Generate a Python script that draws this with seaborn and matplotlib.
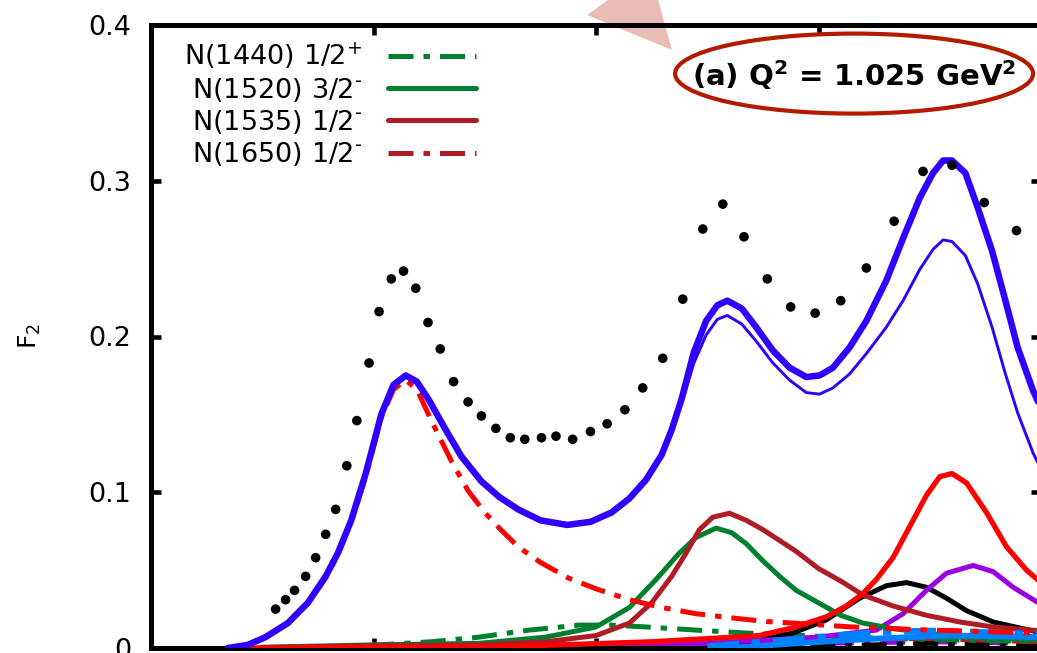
import numpy as np
import pandas as pd
import matplotlib
matplotlib.use("Agg")
import matplotlib.pyplot as plt
import seaborn as sns
from matplotlib.patches import Ellipse, Polygon

# ---------------- data ----------------
data_W = [1.112, 1.121, 1.129, 1.139, 1.148, 1.157, 1.166, 1.176, 1.185, 1.196,
          1.205, 1.216, 1.227, 1.238, 1.249, 1.260, 1.272, 1.285, 1.297, 1.310,
          1.323, 1.336, 1.351, 1.364, 1.379, 1.395, 1.410, 1.426, 1.442, 1.460,
          1.478, 1.496, 1.514, 1.533, 1.554, 1.575, 1.597, 1.620, 1.643, 1.668,
          1.694, 1.720, 1.749, 1.778]
data_F2 = [0.025, 0.031, 0.037, 0.046, 0.058, 0.073, 0.089, 0.117, 0.146, 0.183,
           0.216, 0.237, 0.242, 0.231, 0.209, 0.192, 0.171, 0.158, 0.149, 0.141,
           0.135, 0.134, 0.135, 0.136, 0.134, 0.139, 0.144, 0.153, 0.167, 0.186,
           0.224, 0.269, 0.285, 0.264, 0.237, 0.219, 0.215, 0.223, 0.244, 0.274,
           0.306, 0.310, 0.286, 0.268]

tot_W = [1.069, 1.087, 1.103, 1.123, 1.141, 1.157, 1.168, 1.180, 1.193, 1.207,
         1.218, 1.229, 1.239, 1.250, 1.265, 1.279, 1.297, 1.313, 1.330, 1.350,
         1.374, 1.395, 1.414, 1.430, 1.445, 1.459, 1.468, 1.477, 1.488, 1.499,
         1.509, 1.518, 1.531, 1.544, 1.559, 1.574, 1.589, 1.601, 1.613, 1.628,
         1.643, 1.661, 1.676, 1.691, 1.703, 1.712, 1.720, 1.732, 1.743, 1.756,
         1.768, 1.779, 1.793, 1.800]
tot_F2 = [0.000, 0.002, 0.007, 0.016, 0.029, 0.046, 0.061, 0.082, 0.112, 0.150,
          0.169, 0.175, 0.171, 0.159, 0.140, 0.123, 0.107, 0.097, 0.089, 0.082,
          0.079, 0.081, 0.087, 0.096, 0.108, 0.124, 0.140, 0.160, 0.190, 0.210,
          0.220, 0.223, 0.218, 0.206, 0.191, 0.180, 0.174, 0.175, 0.180, 0.193,
          0.210, 0.236, 0.263, 0.289, 0.305, 0.313, 0.313, 0.305, 0.283, 0.255,
          0.223, 0.193, 0.165, 0.154]
# thinner total curve (second model)
tot2_F2 = [0.000, 0.002, 0.007, 0.016, 0.029, 0.046, 0.061, 0.082, 0.112, 0.150,
           0.169, 0.175, 0.171, 0.159, 0.140, 0.123, 0.107, 0.097, 0.089, 0.082,
           0.079, 0.081, 0.087, 0.096, 0.108, 0.124, 0.139, 0.157, 0.183, 0.201,
           0.211, 0.2135, 0.208, 0.197, 0.183, 0.172, 0.164, 0.163, 0.167, 0.176,
           0.189, 0.206, 0.223, 0.243, 0.256, 0.262, 0.261, 0.252, 0.234, 0.206,
           0.176, 0.151, 0.125, 0.115]

delta_W = [1.069, 1.087, 1.103, 1.123, 1.141, 1.157, 1.168, 1.180, 1.193, 1.207,
           1.218, 1.229, 1.239, 1.252, 1.270, 1.285, 1.300, 1.313, 1.330, 1.350,
           1.375, 1.400, 1.430, 1.459, 1.490, 1.526, 1.553, 1.577, 1.630, 1.700,
           1.800]
delta_F2 = [0.000, 0.002, 0.007, 0.016, 0.029, 0.045, 0.060, 0.081, 0.110, 0.148,
            0.166, 0.172, 0.166, 0.146, 0.120, 0.101, 0.087, 0.077, 0.065, 0.055,
            0.045, 0.038, 0.031, 0.026, 0.022, 0.019, 0.017, 0.016, 0.0135, 0.0115,
            0.0096]

n1440_W = [1.150, 1.205, 1.252, 1.295, 1.340, 1.385, 1.414, 1.445, 1.490, 1.535,
           1.600, 1.700, 1.800]
n1440_F2 = [0.000, 0.002, 0.004, 0.007, 0.0115, 0.0147, 0.0147, 0.0135, 0.0115,
            0.0096, 0.0075, 0.0055, 0.004]

n1520_W = [1.100, 1.200, 1.295, 1.355, 1.400, 1.430, 1.454, 1.475, 1.490, 1.508,
           1.522, 1.535, 1.550, 1.565, 1.580, 1.600, 1.620, 1.640, 1.667, 1.697,
           1.727, 1.800]
n1520_F2 = [0.0005, 0.002, 0.003, 0.007, 0.0135, 0.026, 0.044, 0.061, 0.071, 0.077,
            0.074, 0.067, 0.056, 0.046, 0.037, 0.029, 0.021, 0.016, 0.0125, 0.0096,
            0.007, 0.005]

n1535_W = [1.100, 1.200, 1.295, 1.355, 1.400, 1.430, 1.450, 1.468, 1.481, 1.493,
           1.505, 1.520, 1.535, 1.550, 1.565, 1.580, 1.600, 1.620, 1.640, 1.667,
           1.697, 1.727, 1.757, 1.800]
n1535_F2 = [0.0003, 0.0015, 0.002, 0.004, 0.008, 0.016, 0.029, 0.046, 0.061, 0.076,
            0.084, 0.0865, 0.082, 0.076, 0.069, 0.062, 0.051, 0.043, 0.034, 0.027,
            0.021, 0.0167, 0.0135, 0.011]

n1650_W = [1.450, 1.550, 1.600, 1.650, 1.700, 1.750, 1.800]
n1650_F2 = [0.000, 0.002, 0.004, 0.006, 0.006, 0.005, 0.004]

red3_W = [1.069, 1.300, 1.367, 1.450, 1.500, 1.547, 1.577, 1.607, 1.625, 1.640,
          1.652, 1.667, 1.682, 1.697, 1.709, 1.720, 1.733, 1.751, 1.769, 1.787,
          1.800]
red3_F2 = [0.000, 0.0005, 0.002, 0.004, 0.006, 0.008, 0.013, 0.020, 0.027, 0.035,
           0.044, 0.058, 0.078, 0.098, 0.110, 0.112, 0.106, 0.087, 0.065, 0.050,
           0.042]

black_W = [1.300, 1.500, 1.547, 1.577, 1.607, 1.637, 1.661, 1.679, 1.697, 1.715,
           1.733, 1.757, 1.800]
black_F2 = [0.000, 0.002, 0.005, 0.0096, 0.018, 0.032, 0.040, 0.042, 0.039, 0.032,
            0.024, 0.0167, 0.0098]

purple_W = [1.300, 1.500, 1.600, 1.652, 1.676, 1.697, 1.715, 1.739, 1.757, 1.775,
            1.800]
purple_F2 = [0.000, 0.003, 0.007, 0.0115, 0.022, 0.037, 0.048, 0.053, 0.049, 0.039,
             0.028]

lblue_dd_W = [1.500, 1.550, 1.600, 1.650, 1.700, 1.750, 1.800]
lblue_dd_F2 = [0.001, 0.004, 0.007, 0.010, 0.011, 0.010, 0.009]
lblue_W = [1.520, 1.580, 1.650, 1.720, 1.800]
lblue_F2 = [0.000, 0.003, 0.006, 0.008, 0.007]
purple_dd_W = [1.100, 1.400, 1.600, 1.700, 1.800]
purple_dd_F2 = [0.000, 0.001, 0.003, 0.004, 0.003]
black_dd_W = [1.500, 1.650, 1.700, 1.800]
black_dd_F2 = [0.000, 0.002, 0.003, 0.002]

legend_labels = ["N(1440) 1/2$^{+}$", "N(1520) 3/2$^{\u2010}$",
                 "N(1535) 1/2$^{\u2010}$", "N(1650) 1/2$^{\u2010}$"]
y_ticks = [0.0, 0.1, 0.2, 0.3, 0.4]
y_ticklabels = ["0", "0.1", "0.2", "0.3", "0.4"]
x_ticks = [1.0, 1.2, 1.4, 1.6, 1.8]
annot_text = r"(a) Q$^{\mathbf{2}}$ = 1.025 GeV$^{\mathbf{2}}$"

# ---------------- style ----------------
sns.set_style("white")
plt.rcParams["font.family"] = ["DejaVu Sans"]
plt.rcParams["mathtext.fontset"] = "dejavusans"
for k in ["text.color", "axes.labelcolor", "xtick.color", "ytick.color"]:
    plt.rcParams[k] = "black"

BLUE = "#3000ff"
RED = "#ff0000"
BROWN = "#b01c26"
GREEN = "#00802f"
PURPLE = "#9a00dd"
LBLUE = "#0080ff"
DD = (0, (5, 2, 1.3, 2))

fig = plt.figure(figsize=(10.37, 6.53), dpi=100)
fig.patch.set_facecolor("white")
ax = fig.add_axes([151 / 1037, 5 / 653, 890 / 1037, 623 / 653])
ax.set_facecolor("none")

# wedge (callout) decoration behind the axes
fig.add_artist(Polygon([(587 / 1037, 1 - 15 / 653), (672 / 1037, 1 - 50 / 653),
                        (650 / 1037, 1 + 30 / 653)], closed=True,
                       transform=fig.transFigure, fc="#e9bdb6", ec="none",
                       zorder=-5))


def line(xs, ys, color, lw, ls="-", z=2):
    sns.lineplot(x=xs, y=ys, ax=ax, color=color, linewidth=lw, linestyle=ls,
                 sort=False, estimator=None, zorder=z)
    return ax.lines[-1]


line(purple_dd_W, purple_dd_F2, PURPLE, 3.6, DD, 2)
line(black_dd_W, black_dd_F2, "black", 3.6, DD, 2)
h1650 = line(n1650_W, n1650_F2, BROWN, 3.6, DD, 2.1)
h1440 = line(n1440_W, n1440_F2, GREEN, 3.6, DD, 2.3)
line(black_W, black_F2, "black", 3.6, "-", 2.4)
line(purple_W, purple_F2, PURPLE, 3.6, "-", 2.4)
h1520 = line(n1520_W, n1520_F2, GREEN, 3.6, "-", 2.5)
h1535 = line(n1535_W, n1535_F2, BROWN, 3.6, "-", 2.6)
line(lblue_W, lblue_F2, LBLUE, 4.2, "-", 2.65)
line(lblue_dd_W, lblue_dd_F2, LBLUE, 4.6, DD, 2.65)
line(red3_W, red3_F2, RED, 3.8, "-", 2.7)
line(delta_W, delta_F2, RED, 3.6, DD, 2.8)
line(tot_W, tot2_F2, BLUE, 2.1, "-", 3)
line(tot_W, tot_F2, BLUE, 4.7, "-", 3.1)

sns.scatterplot(x=data_W, y=data_F2, ax=ax, color="black", s=48,
                edgecolor="none", linewidth=0, zorder=4)

ax.set_xlim(1.0, 1.8)
ax.set_ylim(0, 0.4)
ax.set_xticks(x_ticks)
ax.set_yticks(y_ticks)
ax.set_yticklabels(y_ticklabels)
ax.tick_params(axis="both", direction="in", length=7, width=3.3,
               top=True, right=True, bottom=True, left=True,
               labelbottom=False, labelsize=19.5, pad=14,
               colors="black", labelcolor="black")
for sp in ax.spines.values():
    sp.set_linewidth(3.6)
    sp.set_color("black")
    sp.set_visible(True)
ax.set_xlabel("")
ax.set_ylabel(r"F$_2$", fontsize=18, labelpad=33, color="black")

leg = ax.legend([h1440, h1520, h1535, h1650], legend_labels,
                loc="upper right", bbox_to_anchor=(0.365, 0.975),
                frameon=False, markerfirst=False, handlelength=3.25,
                handletextpad=0.95, labelspacing=0.16, fontsize=19.5,
                borderaxespad=0, borderpad=0)
for t in leg.get_texts():
    t.set_color("black")

ax.add_patch(Ellipse((0.790, 0.922), 358 / 890, 80 / 623, transform=ax.transAxes,
                     fill=False, ec="#b31b00", lw=3.0, clip_on=False, zorder=6))
ax.text(0.790, 0.919, annot_text, transform=ax.transAxes, ha="center",
        va="center", fontsize=21, fontweight="bold", color="black", zorder=7)

fig.savefig("out.png", dpi=100)
